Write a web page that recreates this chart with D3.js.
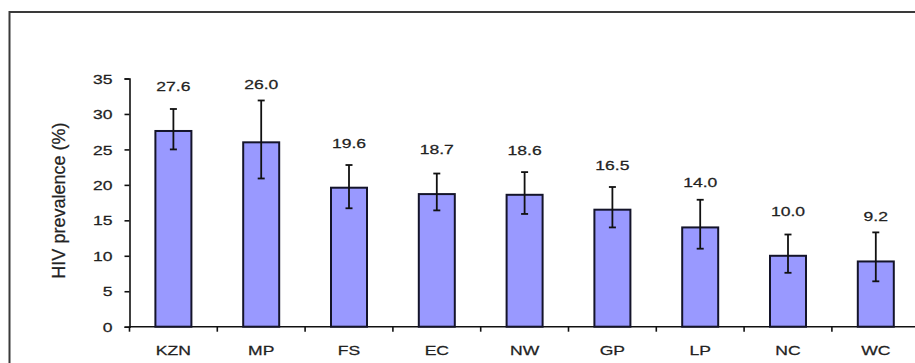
<!DOCTYPE html>
<html>
<head>
<meta charset="utf-8">
<script src="https://cdn.jsdelivr.net/npm/d3@7"></script>
<style>
  html, body { margin: 0; padding: 0; background: #fff; }
  svg { display: block; }
  text { font-family: "Liberation Sans", Arial, sans-serif; fill: #222; stroke: #222; stroke-width: 0.25px; }
</style>
</head>
<body>
<div id="chart"></div>
<script>
// HIV prevalence by province, with 95% confidence intervals
const provinces = ["KZN", "MP", "FS", "EC", "NW", "GP", "LP", "NC", "WC"];
const prevalence = [27.6, 26.0, 19.6, 18.7, 18.6, 16.5, 14.0, 10.0, 9.2];
const ciLow  = [25.0, 20.9, 16.7, 16.4, 15.9, 14.0, 11.0, 7.6, 6.4];
const ciHigh = [30.7, 31.9, 22.8, 21.6, 21.8, 19.7, 17.9, 13.0, 13.3];
const yTicks = [0, 5, 10, 15, 20, 25, 30, 35];

const W = 915, H = 363;
const svg = d3.select("#chart").append("svg")
  .attr("width", W).attr("height", H);

// chart frame (runs off the right and bottom edges)
svg.append("path")
  .attr("d", `M${W + 5},12 H9.5 V${H + 5}`)
  .attr("fill", "none").attr("stroke", "#3a3a3a").attr("stroke-width", 2);

const x0 = 129.5, band = 87.8;
const x = d3.scaleBand().domain(provinces)
  .range([x0, x0 + band * provinces.length]).padding(0);
const y = d3.scaleLinear().domain([0, 35]).range([326.7, 78.5]);

const textScale = 1.3;
const barW = x.bandwidth() * 0.41;

// y axis
const yAxis = svg.append("g").attr("transform", `translate(${x0},0)`)
  .call(d3.axisLeft(y).tickValues(yTicks).tickSize(5).tickPadding(0).tickFormat(d3.format("d")));
yAxis.select(".domain").attr("stroke", "#111").attr("stroke-width", 1.6);
yAxis.selectAll(".tick line").attr("stroke", "#111").attr("stroke-width", 1.6);
yAxis.selectAll(".tick text")
  .attr("font-size", 13.5).attr("text-anchor", "end").attr("dy", "0.34em")
  .attr("x", null)
  .attr("transform", `translate(-17,0) scale(${textScale},1)`);

// x axis: ticks between categories
svg.append("line")
  .attr("x1", x0).attr("x2", W + 5)
  .attr("y1", y(0)).attr("y2", y(0))
  .attr("stroke", "#111").attr("stroke-width", 1.6);
svg.append("g").selectAll("line")
  .data(provinces)
  .join("line")
  .attr("x1", d => x(d)).attr("x2", d => x(d))
  .attr("y1", y(0)).attr("y2", y(0) + 5)
  .attr("stroke", "#111").attr("stroke-width", 1.6);

svg.append("g").selectAll("text")
  .data(provinces)
  .join("text")
  .attr("transform", d => `translate(${x(d) + x.bandwidth() / 2},${y(0) + 28.5}) scale(${textScale},1)`)
  .attr("text-anchor", "middle")
  .attr("font-size", 13.5)
  .text(d => d);

// y axis title
svg.append("text")
  .attr("transform", `translate(65,${(y(0) + y(35)) / 2 - 2}) rotate(-90)`)
  .attr("text-anchor", "middle")
  .attr("font-size", 18)
  .text("HIV prevalence (%)");

// bars
const rows = provinces.map((p, i) => ({ p, v: prevalence[i], lo: ciLow[i], hi: ciHigh[i] }));
const cx = d => x(d.p) + x.bandwidth() / 2;

svg.append("g").selectAll("rect")
  .data(rows)
  .join("rect")
  .attr("x", d => cx(d) - barW / 2)
  .attr("y", d => y(d.v))
  .attr("width", barW)
  .attr("height", d => y(0) - y(d.v))
  .attr("fill", "#9999ff")
  .attr("stroke", "#14142a")
  .attr("stroke-width", 2);

// error bars
const eb = svg.append("g").attr("stroke", "#111").attr("stroke-width", 1.8);
eb.selectAll("line.v").data(rows).join("line").attr("class", "v")
  .attr("x1", cx).attr("x2", cx)
  .attr("y1", d => y(d.lo)).attr("y2", d => y(d.hi));
eb.selectAll("line.t").data(rows).join("line").attr("class", "t")
  .attr("x1", d => cx(d) - 3.5).attr("x2", d => cx(d) + 3.5)
  .attr("y1", d => y(d.hi)).attr("y2", d => y(d.hi));
eb.selectAll("line.b").data(rows).join("line").attr("class", "b")
  .attr("x1", d => cx(d) - 3.5).attr("x2", d => cx(d) + 3.5)
  .attr("y1", d => y(d.lo)).attr("y2", d => y(d.lo));

// value labels above each bar, clear of the error bar cap
const fmt = d3.format(".1f");
svg.append("g").selectAll("text")
  .data(rows)
  .join("text")
  .attr("transform", d => `translate(${cx(d)},${Math.min(y(d.v) - 45, y(d.hi) - 16) + 5}) scale(${textScale},1)`)
  .attr("text-anchor", "middle")
  .attr("font-size", 13.5)
  .text(d => fmt(d.v));
</script>
</body>
</html>
